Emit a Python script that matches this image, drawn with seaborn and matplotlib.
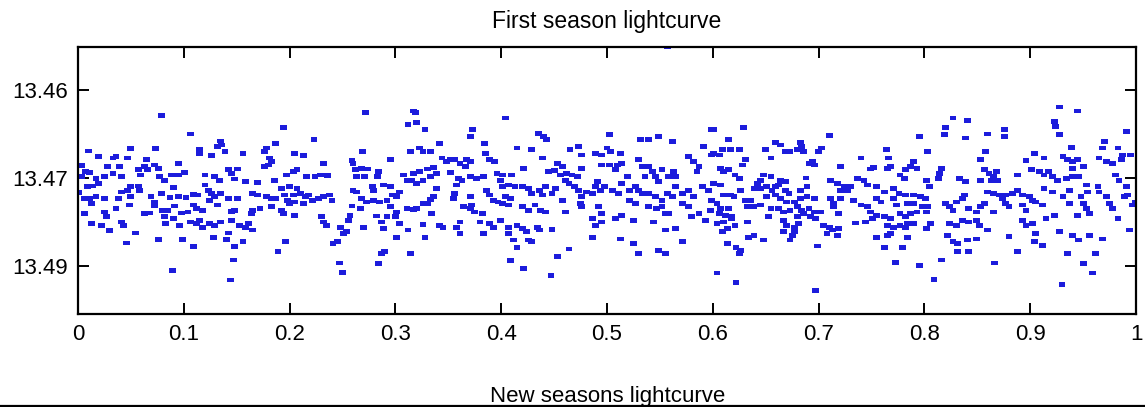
import numpy as np
import pandas as pd
import matplotlib
matplotlib.use("Agg")
import matplotlib.pyplot as plt
from matplotlib.lines import Line2D
import seaborn as sns

# ---- data (phase, magnitude) ----
phase_a = [0.079,0.106,0.194,0.187,0.135,0.136,0.132,0.139,0.115,0.115,0.156,0.126,0.178,0.176,0.181,0.183,0.176,0.180,
           0.010,0.019,0.050,0.073,0.033,0.036,0.047,0.065,0.003,0.007,0.011,0.003,0.028,0.039,0.063,0.072,0.076,0.066,
           0.095,0.057,0.059,0.033,0.041,0.017,0.025,0.077,0.082,0.088,0.095,0.101,0.120,0.129,0.134,0.142,0.151,0.145,
           0.148,0.158,0.170,0.186,0.197,0.009,0.014,0.019,0.050,0.057,0.058,0.047,0.041,0.090,0.001,0.006,0.011,0.017,
           0.025,0.013,0.038,0.050,0.049,0.069,0.072,0.079,0.087,0.095,0.102,0.109,0.113,0.120,0.123,0.126,0.129,0.135,
           0.124,0.142,0.151,0.165,0.170,0.178,0.183,0.187,0.192,0.195,0.198,0.072,0.091,0.109,0.112,0.118,0.132,0.006,
           0.025,0.036,0.027,0.063,0.068,0.080,0.085,0.098,0.104,0.145,0.148,0.164,0.165,0.172,0.183,0.192,0.194,0.013,
           0.022,0.030,0.041,0.043,0.054,0.082,0.083,0.090,0.096,0.106,0.112,0.118,0.115,0.124,0.129,0.135,0.145,0.153,
           0.158,0.161,0.165,0.046,0.076,0.099,0.109,0.128,0.142,0.140,0.148,0.156,0.189,0.196,0.147,0.089,0.144]
mag_a = [13.4642,13.4674,13.4663,13.4691,13.4686,13.4693,13.4695,13.4704,13.4701,13.4707,13.4707,13.4711,13.4698,13.4704,13.4715,13.4721,13.4730,13.4727,
         13.4703,13.4713,13.4699,13.4699,13.4715,13.4713,13.4715,13.4717,13.4728,13.4738,13.4740,13.4747,13.4729,13.4729,13.4729,13.4727,13.4733,13.4735,
         13.4724,13.4735,13.4744,13.4741,13.4747,13.4750,13.4747,13.4747,13.4753,13.4744,13.4744,13.4740,13.4744,13.4747,13.4753,13.4735,13.4734,13.4741,
         13.4751,13.4755,13.4757,13.4753,13.4744,13.4764,13.4763,13.4759,13.4764,13.4763,13.4770,13.4770,13.4773,13.4765,13.4774,13.4784,13.4784,13.4781,
         13.4784,13.4793,13.4784,13.4781,13.4795,13.4781,13.4791,13.4775,13.4782,13.4781,13.4782,13.4777,13.4778,13.4761,13.4770,13.4775,13.4781,13.4775,
         13.4787,13.4784,13.4784,13.4775,13.4778,13.4781,13.4784,13.4784,13.4767,13.4778,13.4787,13.4797,13.4797,13.4795,13.4801,13.4804,13.4795,13.4810,
         13.4807,13.4801,13.4815,13.4810,13.4809,13.4804,13.4805,13.4809,13.4807,13.4806,13.4805,13.4810,13.4804,13.4801,13.4798,13.4804,13.4810,13.4827,
         13.4830,13.4839,13.4824,13.4830,13.4843,13.4815,13.4827,13.4818,13.4830,13.4824,13.4827,13.4833,13.4821,13.4827,13.4830,13.4824,13.4821,13.4830,
         13.4833,13.4827,13.4838,13.4860,13.4854,13.4854,13.4866,13.4850,13.4843,13.4854,13.4866,13.4858,13.4875,13.4858,13.4889,13.4907,13.4923]

phase_b = [0.272,0.317,0.319,0.312,0.320,0.328,0.223,0.373,0.371,0.384,0.342,0.205,0.213,0.269,0.314,0.323,0.326,0.333,
           0.385,0.389,0.394,0.232,0.259,0.260,0.295,0.344,0.348,0.352,0.356,0.361,0.367,0.371,0.366,0.204,0.207,0.216,
           0.224,0.229,0.236,0.262,0.268,0.274,0.271,0.263,0.284,0.283,0.289,0.295,0.278,0.279,0.308,0.311,0.317,0.323,
           0.330,0.336,0.339,0.315,0.320,0.326,0.333,0.352,0.360,0.363,0.371,0.377,0.383,0.396,0.399,0.200,0.207,0.204,
           0.210,0.215,0.218,0.222,0.227,0.232,0.238,0.240,0.200,0.205,0.213,0.260,0.263,0.304,0.301,0.297,0.339,0.336,
           0.333,0.358,0.356,0.355,0.371,0.372,0.371,0.386,0.389,0.393,0.397,0.268,0.273,0.279,0.285,0.292,0.295,0.259,
           0.267,0.311,0.317,0.320,0.326,0.330,0.364,0.375,0.382,0.205,0.230,0.232,0.235,0.257,0.256,0.282,0.287,0.292,
           0.301,0.300,0.304,0.326,0.334,0.342,0.345,0.361,0.358,0.380,0.389,0.393,0.399,0.248,0.254,0.251,0.270,0.289,
           0.312,0.301,0.328,0.361,0.383,0.245,0.241,0.290,0.287,0.314,0.284,0.247,0.250]
mag_b = [13.4638,13.4635,13.4638,13.4658,13.4655,13.4666,13.4684,13.4666,13.4678,13.4691,13.4691,13.4707,13.4711,13.4704,13.4704,13.4698,13.4704,13.4704,
         13.4707,13.4718,13.4721,13.4724,13.4719,13.4724,13.4717,13.4715,13.4721,13.4718,13.4718,13.4724,13.4718,13.4721,13.4729,13.4738,13.4735,13.4747,
         13.4747,13.4744,13.4745,13.4735,13.4733,13.4734,13.4747,13.4747,13.4738,13.4747,13.4761,13.4764,13.4764,13.4771,13.4744,13.4753,13.4741,13.4738,
         13.4734,13.4731,13.4741,13.4753,13.4758,13.4753,13.4747,13.4740,13.4750,13.4753,13.4747,13.4750,13.4747,13.4741,13.4753,13.4764,13.4767,13.4778,
         13.4775,13.4781,13.4778,13.4787,13.4784,13.4781,13.4778,13.4787,13.4793,13.4790,13.4793,13.4770,13.4773,13.4773,13.4781,13.4778,13.4767,13.4781,
         13.4786,13.4761,13.4775,13.4784,13.4781,13.4795,13.4801,13.4770,13.4778,13.4787,13.4790,13.4784,13.4790,13.4787,13.4790,13.4787,13.4798,13.4797,
         13.4801,13.4801,13.4803,13.4801,13.4793,13.4793,13.4798,13.4807,13.4810,13.4813,13.4815,13.4824,13.4830,13.4813,13.4821,13.4814,13.4824,13.4815,
         13.4807,13.4815,13.4827,13.4828,13.4810,13.4830,13.4833,13.4824,13.4833,13.4824,13.4827,13.4833,13.4821,13.4833,13.4841,13.4844,13.4833,13.4835,
         13.4838,13.4850,13.4851,13.4844,13.4844,13.4858,13.4861,13.4875,13.4878,13.4878,13.4895,13.4894,13.4910]

phase_c = [0.557,0.404,0.435,0.440,0.443,0.502,0.532,0.539,0.549,0.562,0.415,0.429,0.465,0.473,0.476,0.489,0.495,0.500,
           0.503,0.513,0.577,0.582,0.587,0.585,0.591,0.599,0.599,0.439,0.453,0.458,0.421,0.401,0.410,0.445,0.450,0.456,
           0.462,0.467,0.472,0.461,0.464,0.476,0.495,0.502,0.510,0.508,0.514,0.491,0.489,0.494,0.498,0.505,0.519,0.530,
           0.533,0.536,0.539,0.543,0.546,0.549,0.552,0.558,0.563,0.565,0.401,0.407,0.413,0.420,0.426,0.429,0.436,0.439,
           0.442,0.404,0.409,0.448,0.451,0.469,0.473,0.476,0.481,0.486,0.514,0.511,0.521,0.527,0.530,0.533,0.539,0.546,
           0.552,0.557,0.562,0.565,0.571,0.577,0.582,0.590,0.596,0.599,0.401,0.407,0.420,0.426,0.432,0.437,0.442,0.458,
           0.461,0.476,0.475,0.492,0.495,0.521,0.527,0.539,0.547,0.552,0.555,0.558,0.571,0.577,0.580,0.587,0.593,0.598,
           0.486,0.489,0.495,0.508,0.514,0.525,0.544,0.407,0.415,0.420,0.424,0.434,0.436,0.448,0.486,0.513,0.555,0.565,
           0.407,0.412,0.415,0.426,0.429,0.464,0.525,0.571,0.549,0.555,0.530,0.453,0.409,0.421,0.447]
mag_c = [13.4525,13.4647,13.4673,13.4678,13.4684,13.4675,13.4684,13.4684,13.4678,13.4687,13.4698,13.4701,13.4701,13.4695,13.4710,13.4707,13.4710,13.4698,
         13.4704,13.4707,13.4713,13.4721,13.4730,13.4738,13.4695,13.4710,13.4667,13.4715,13.4724,13.4729,13.4733,13.4744,13.4744,13.4738,13.4737,13.4744,
         13.4741,13.4744,13.4747,13.4753,13.4758,13.4733,13.4727,13.4727,13.4727,13.4735,13.4724,13.4755,13.4764,13.4770,13.4764,13.4770,13.4747,13.4718,
         13.4730,13.4747,13.4730,13.4738,13.4747,13.4755,13.4735,13.4747,13.4738,13.4747,13.4764,13.4761,13.4764,13.4764,13.4767,13.4775,13.4770,13.4778,
         13.4764,13.4781,13.4784,13.4775,13.4767,13.4764,13.4770,13.4781,13.4773,13.4775,13.4758,13.4775,13.4770,13.4764,13.4770,13.4775,13.4775,13.4781,
         13.4787,13.4775,13.4781,13.4764,13.4775,13.4770,13.4781,13.4764,13.4770,13.4787,13.4793,13.4795,13.4798,13.4804,13.4795,13.4804,13.4807,13.4787,
         13.4807,13.4798,13.4793,13.4798,13.4810,13.4787,13.4793,13.4798,13.4801,13.4798,13.4810,13.4810,13.4793,13.4798,13.4815,13.4810,13.4821,13.4804,
         13.4818,13.4830,13.4824,13.4818,13.4813,13.4821,13.4824,13.4833,13.4830,13.4835,13.4841,13.4833,13.4838,13.4837,13.4850,13.4853,13.4838,13.4835,
         13.4844,13.4855,13.4867,13.4855,13.4858,13.4870,13.4861,13.4858,13.4873,13.4878,13.4878,13.4883,13.4890,13.4904,13.4915]

phase_d = [0.629,0.601,0.710,0.795,0.615,0.659,0.664,0.683,0.684,0.680,0.686,0.703,0.700,0.764,0.609,0.617,0.625,0.650,
           0.669,0.673,0.601,0.606,0.655,0.694,0.696,0.691,0.631,0.628,0.721,0.740,0.766,0.768,0.765,0.790,0.787,0.793,
           0.782,0.777,0.781,0.607,0.610,0.615,0.621,0.625,0.648,0.655,0.645,0.664,0.669,0.688,0.711,0.718,0.737,0.743,
           0.749,0.752,0.601,0.607,0.642,0.639,0.645,0.651,0.656,0.659,0.662,0.669,0.672,0.683,0.689,0.724,0.727,0.730,
           0.721,0.746,0.755,0.762,0.771,0.776,0.782,0.790,0.796,0.801,0.610,0.617,0.620,0.626,0.631,0.636,0.651,0.659,
           0.664,0.670,0.677,0.683,0.689,0.696,0.711,0.714,0.721,0.733,0.740,0.746,0.755,0.759,0.771,0.774,0.784,0.790,
           0.798,0.604,0.607,0.615,0.606,0.612,0.618,0.633,0.639,0.645,0.655,0.662,0.667,0.673,0.680,0.684,0.691,0.696,
           0.702,0.680,0.686,0.692,0.697,0.714,0.719,0.749,0.755,0.762,0.768,0.777,0.782,0.787,0.793,0.604,0.610,0.618,
           0.621,0.614,0.609,0.633,0.653,0.667,0.670,0.677,0.681,0.705,0.710,0.713,0.719,0.718,0.735,0.744,0.751,0.765,
           0.771,0.777,0.784,0.790,0.782,0.639,0.634,0.648,0.667,0.675,0.673,0.677,0.708,0.755,0.768,0.765,0.784,0.614,
           0.622,0.626,0.625,0.699,0.762,0.779,0.773,0.795,0.604,0.622,0.697]
mag_d = [13.4663,13.4667,13.4677,13.4679,13.4683,13.4688,13.4693,13.4689,13.4695,13.4701,13.4704,13.4698,13.4704,13.4701,13.4701,13.4700,13.4700,13.4700,
         13.4704,13.4704,13.4707,13.4710,13.4715,13.4720,13.4727,13.4724,13.4718,13.4727,13.4729,13.4715,13.4715,13.4730,13.4733,13.4721,13.4730,13.4733,
         13.4735,13.4744,13.4750,13.4733,13.4738,13.4735,13.4744,13.4750,13.4744,13.4747,13.4753,13.4753,13.4755,13.4749,13.4753,13.4758,13.4750,13.4753,
         13.4734,13.4731,13.4758,13.4761,13.4758,13.4767,13.4767,13.4764,13.4770,13.4764,13.4761,13.4770,13.4775,13.4770,13.4764,13.4764,13.4770,13.4764,
         13.4770,13.4761,13.4764,13.4773,13.4767,13.4775,13.4778,13.4778,13.4781,13.4784,13.4778,13.4778,13.4781,13.4770,13.4787,13.4787,13.4781,13.4778,
         13.4784,13.4790,13.4790,13.4784,13.4781,13.4784,13.4784,13.4793,13.4784,13.4787,13.4795,13.4798,13.4784,13.4790,13.4784,13.4795,13.4793,13.4793,
         13.4798,13.4793,13.4801,13.4801,13.4810,13.4813,13.4815,13.4798,13.4798,13.4795,13.4801,13.4801,13.4807,13.4804,13.4798,13.4804,13.4801,13.4807,
         13.4807,13.4815,13.4810,13.4815,13.4818,13.4798,13.4810,13.4807,13.4813,13.4815,13.4818,13.4810,13.4815,13.4810,13.4807,13.4827,13.4824,13.4818,
         13.4830,13.4835,13.4841,13.4824,13.4815,13.4821,13.4830,13.4833,13.4827,13.4830,13.4833,13.4838,13.4835,13.4847,13.4826,13.4824,13.4818,13.4830,
         13.4833,13.4830,13.4827,13.4827,13.4833,13.4847,13.4850,13.4855,13.4841,13.4847,13.4855,13.4841,13.4844,13.4850,13.4844,13.4847,13.4850,13.4861,
         13.4867,13.4873,13.4878,13.4865,13.4867,13.4867,13.4893,13.4898,13.4911,13.4927,13.4941]

phase_e = [0.928,0.945,0.991,0.827,0.841,0.820,0.819,0.923,0.924,0.928,0.876,0.876,0.860,0.839,0.970,0.968,0.939,0.858,
           0.803,0.983,0.987,0.986,0.904,0.913,0.931,0.935,0.940,0.945,0.940,0.950,0.965,0.972,0.978,0.896,0.853,0.816,
           0.814,0.813,0.805,0.833,0.839,0.857,0.861,0.868,0.865,0.869,0.863,0.888,0.901,0.909,0.913,0.917,0.921,0.926,
           0.934,0.940,0.946,0.853,0.981,0.984,0.991,0.995,0.802,0.953,0.954,0.964,0.965,0.913,0.921,0.931,0.937,0.860,
           0.865,0.871,0.877,0.883,0.888,0.893,0.899,0.902,0.838,0.836,0.803,0.802,0.820,0.824,0.827,0.830,0.842,0.849,
           0.853,0.857,0.874,0.877,0.880,0.893,0.896,0.905,0.912,0.948,0.950,0.953,0.972,0.975,0.978,0.989,0.992,0.997,
           0.999,0.937,0.865,0.923,0.915,0.945,0.956,0.983,0.806,0.802,0.824,0.830,0.836,0.842,0.849,0.852,0.893,0.896,
           0.902,0.860,0.928,0.940,0.946,0.956,0.968,0.994,0.822,0.827,0.831,0.841,0.849,0.880,0.905,0.904,0.912,0.831,
           0.842,0.888,0.935,0.962,0.816,0.866,0.950,0.959,0.809,0.930]
mag_e = [13.4628,13.4635,13.4670,13.4647,13.4651,13.4663,13.4675,13.4653,13.4661,13.4675,13.4667,13.4679,13.4674,13.4681,13.4687,13.4698,13.4697,13.4704,
         13.4704,13.4698,13.4710,13.4718,13.4708,13.4715,13.4713,13.4718,13.4721,13.4718,13.4733,13.4730,13.4715,13.4721,13.4724,13.4719,13.4718,13.4733,
         13.4741,13.4750,13.4764,13.4750,13.4755,13.4735,13.4741,13.4738,13.4747,13.4753,13.4753,13.4744,13.4735,13.4738,13.4744,13.4738,13.4747,13.4753,
         13.4750,13.4747,13.4747,13.4753,13.4744,13.4753,13.4764,13.4710,13.4753,13.4761,13.4773,13.4764,13.4773,13.4767,13.4773,13.4781,13.4770,13.4773,
         13.4775,13.4778,13.4778,13.4775,13.4770,13.4778,13.4781,13.4787,13.4778,13.4784,13.4798,13.4807,13.4793,13.4798,13.4804,13.4790,13.4801,13.4807,
         13.4798,13.4793,13.4784,13.4793,13.4798,13.4795,13.4804,13.4790,13.4795,13.4781,13.4793,13.4801,13.4781,13.4793,13.4801,13.4781,13.4778,13.4795,
         13.4790,13.4793,13.4807,13.4813,13.4818,13.4813,13.4810,13.4818,13.4827,13.4835,13.4827,13.4830,13.4821,13.4824,13.4821,13.4830,13.4821,13.4830,
         13.4827,13.4838,13.4841,13.4847,13.4855,13.4847,13.4853,13.4838,13.4847,13.4858,13.4861,13.4855,13.4853,13.4849,13.4844,13.4858,13.4864,13.4874,
         13.4874,13.4874,13.4878,13.4878,13.4889,13.4894,13.4895,13.4911,13.4922,13.4931]

x_ticks = [0, 0.1, 0.2, 0.3, 0.4, 0.5, 0.6, 0.7, 0.8, 0.9, 1]
x_tick_labels = ["0", "0.1", "0.2", "0.3", "0.4", "0.5", "0.6", "0.7", "0.8", "0.9", "1"]
y_ticks = [13.46, 13.475, 13.49]
y_tick_labels = ["13.46", "13.47", "13.49"]
title_text = "First season lightcurve"
next_title_text = "New seasons lightcurve"

df = pd.DataFrame({
    "phase": phase_a + phase_b + phase_c + phase_d + phase_e,
    "mag": mag_a + mag_b + mag_c + mag_d + mag_e,
})

sns.set_theme(style="ticks")
plt.rcParams["font.family"] = ["Liberation Sans", "DejaVu Sans"]

fig = plt.figure(figsize=(11.45, 4.07), dpi=100)
ax = fig.add_axes([78 / 1145, 1 - 314 / 407, (1136 - 78) / 1145, (314 - 46.5) / 407])

rect = [(-1.0, -0.7), (1.0, -0.7), (1.0, 0.7), (-1.0, 0.7), (-1.0, -0.7)]
sns.scatterplot(data=df, x="phase", y="mag", ax=ax, marker=rect, s=24,
                color="#1c1cdc", edgecolor="none", linewidth=0, legend=False)

ax.set_xlim(0, 1)
ax.set_ylim(13.4981, 13.4525)
ax.set_xticks(x_ticks)
ax.set_xticklabels(x_tick_labels)
ax.set_yticks(y_ticks)
ax.set_yticklabels(y_tick_labels)
ax.set_xlabel("")
ax.set_ylabel("")
for sp in ax.spines.values():
    sp.set_visible(True)
    sp.set_linewidth(1.6)
    sp.set_color("black")
ax.tick_params(axis="both", direction="in", length=8, width=1.4, colors="black",
               labelsize=16, pad=7, top=True, right=True)

fig.text(607 / 1145, 1 - 28 / 407, title_text, ha="center", va="baseline",
         fontsize=16.5, color="black")
fig.text(608 / 1145, 1 - 402 / 407, next_title_text, ha="center", va="baseline",
         fontsize=16, color="black")
fig.add_artist(Line2D([0, 1], [1 - 405.5 / 407, 1 - 405.5 / 407], transform=fig.transFigure,
                      color="black", linewidth=1.6))

fig.savefig("out.png", dpi=100)
